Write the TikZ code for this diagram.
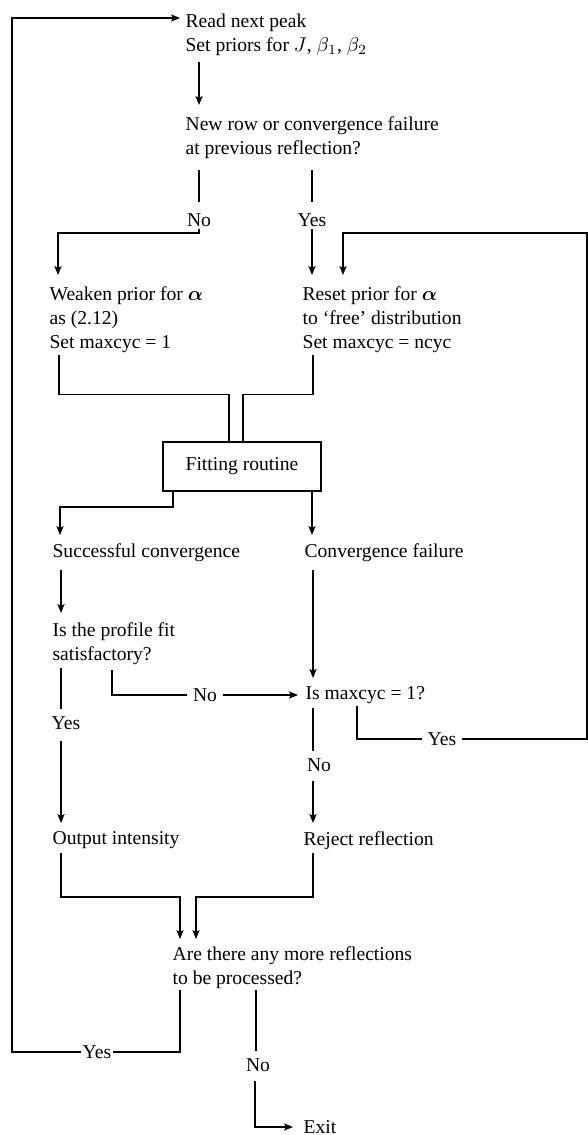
\documentclass[tikz,border=0pt]{standalone}
\usepackage{amsmath,amssymb}
\usepackage{fontspec}
\setmainfont{Liberation Serif}
\usepackage{tikz}
\usetikzlibrary{positioning,arrows.meta,calc}

\begin{document}
\begin{tikzpicture}[
    x=0.5pt, y=-0.5pt, line width=0.6pt,
    txt/.style={anchor=north west, align=left, inner sep=0pt, font=\fontsize{9.8}{12}\selectfont},
    lbl/.style={inner xsep=2.5pt, inner ysep=1pt, font=\fontsize{9.8}{12}\selectfont},
    block/.style={draw, line width=0.7pt, minimum width=79pt, minimum height=24.5pt, font=\fontsize{9.8}{12}\selectfont},
    arrow/.style={-{Stealth[length=4.5pt,width=3.6pt,inset=1pt]}}
]
    \useasboundingbox (0,0) rectangle (588,1135);

    % Read and test
    \node[txt] (read) at (185,13) {Read next peak\\Set priors for $J$, $\beta_1$, $\beta_2$};
    \node[txt] (newrow) at (185,116) {New row or convergence failure\\at previous reflection?};
    \node[lbl] (no1) at (199,220) {No};
    \node[lbl] (yes1) at (312,220) {Yes};

    % Priors
    \node[txt] (weaken) at (49,286) {Weaken prior for $\boldsymbol{\alpha}$\\as (2.12)\\Set maxcyc = 1};
    \node[txt] (reset) at (302,286) {Reset prior for $\boldsymbol{\alpha}$\\to `free' distribution\\Set maxcyc = ncyc};

    % Fitting
    \node[block] (fit) at (242,466.5) {Fitting routine};
    \node[txt] (succ) at (52,543) {Successful convergence};
    \node[txt] (fail) at (304,543) {Convergence failure};
    \node[txt] (prof) at (52,622) {Is the profile fit\\satisfactory?};
    \node[txt] (maxc) at (305,686) {Is maxcyc = 1?};
    \node[lbl] (no2) at (205,695) {No};
    \node[lbl] (yes2) at (66,723) {Yes};
    \node[lbl] (no3) at (319,765) {No};
    \node[lbl] (yes3) at (442,739) {Yes};

    % Outcomes
    \node[txt] (out) at (52,831) {Output intensity};
    \node[txt] (rej) at (303,831) {Reject reflection};
    \node[txt] (more) at (172,946) {Are there any more reflections\\to be processed?};
    \node[lbl, inner xsep=0.8pt] (yes4) at (97,1052) {Yes};
    \node[lbl] (no4) at (258,1065) {No};
    \node[txt, anchor=west] (exit) at (303,1127) {Exit};

    \coordinate (lft) at (12,18);
    \coordinate (rgt) at (587,233);

    % Arrows
    \draw[arrow] (yes4.west) -| (lft) -- ($(read.north west)+(-5,5)$);
    \draw[arrow] ($(read.north west)+(14,49)$) -- ($(newrow.north west)+(14,-11)$);
    \draw ($(newrow.north west)+(14,54)$) -- ($(no1.north)+(0,-8.5)$);
    \draw ($(newrow.north west)+(127,54)$) -- ($(yes1.north)+(0,-8.5)$);
    \draw[arrow] (no1.south) |- ($(weaken.north west)+(9,-53)$) -- ($(weaken.north west)+(9,-11)$);
    \draw[arrow] (yes1.south) -- ($(reset.north west)+(10,-11)$);
    \draw[arrow] (yes3.east) -| (rgt) -- ($(reset.north west)+(41,-53)$) -- ($(reset.north west)+(41,-11)$);
    \draw ($(weaken.north west)+(10,69)$) |- ($(fit.north)+(-13,-47)$) -- ($(fit.north)+(-13,0)$);
    \draw ($(reset.north west)+(11,69)$) |- ($(fit.north)+(1,-47)$) -- ($(fit.north)+(1,0)$);
    \draw[arrow] ($(fit.south west)+(10.7,0)$) |- ($(succ.north west)+(8,-36)$) -- ($(succ.north west)+(8,-8)$);
    \draw[arrow] ($(fit.south east)+(-9.7,0)$) -- ($(fail.north west)+(8,-8)$);
    \draw[arrow] ($(succ.north west)+(9,27)$) -- ($(prof.north west)+(9,-9)$);
    \draw[arrow] ($(fail.north west)+(9,27)$) -- ($(maxc.north west)+(8,-8)$);
    \draw ($(prof.north west)+(60,48)$) |- (no2.west);
    \draw[arrow] (no2.east) -- ($(maxc.north west)+(-7,9)$);
    \draw ($(prof.north west)+(9,46)$) -- ($(yes2.north)+(-5,-4.5)$);
    \draw[arrow] ($(yes2.south)+(-5,8.5)$) -- ($(out.north west)+(9,-8)$);
    \draw ($(maxc.north west)+(8,22)$) -- ($(no3.north)+(-6,-4.5)$);
    \draw[arrow] ($(no3.south)+(-6,6.5)$) -- ($(rej.north west)+(10,-8)$);
    \draw ($(maxc.north west)+(52,20)$) |- (yes3.west);
    \draw[arrow] ($(out.north west)+(9,22)$) |- ($(more.north west)+(8,-49)$) -- ($(more.north west)+(8,-7)$);
    \draw[arrow] ($(rej.north west)+(10,22)$) |- ($(more.north west)+(24,-49)$) -- ($(more.north west)+(24,-7)$);
    \draw ($(more.north west)+(8,44)$) |- (yes4.east);
    \draw ($(more.north west)+(84,44)$) -- ($(no4.north)+(-2,-4.5)$);
    \draw[arrow] ($(no4.south)+(-3,6.5)$) |- ($(exit.west)+(-10,0)$);
\end{tikzpicture}
\end{document}
